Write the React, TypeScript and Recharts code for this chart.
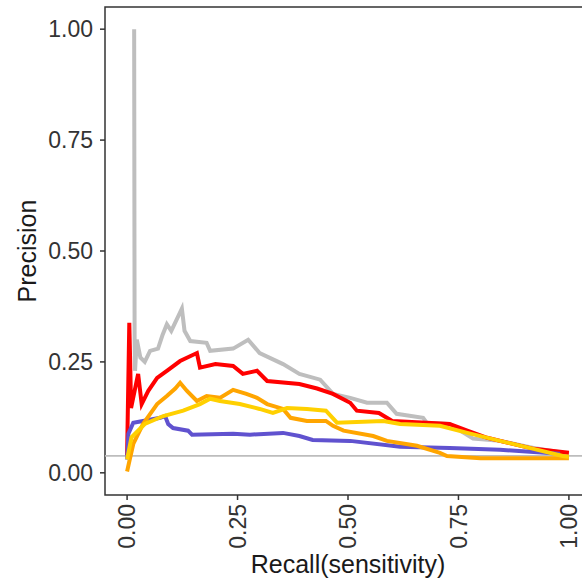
import { LineChart, Line, XAxis, YAxis, ReferenceLine, ReferenceArea, Label } from "recharts";

const ticks = [0, 0.25, 0.5, 0.75, 1];
const baseline = 0.038;

const grayRecall = [0.016, 0.017, 0.018, 0.022, 0.03, 0.04, 0.052, 0.07, 0.08, 0.09, 0.1, 0.124, 0.13, 0.143, 0.18, 0.188, 0.24, 0.274, 0.3, 0.353, 0.39, 0.437, 0.466, 0.505, 0.543, 0.588, 0.61, 0.67, 0.678, 0.73, 0.783, 0.844, 0.92, 1.0];
const grayPrecision = [1.0, 0.3, 0.23, 0.3, 0.26, 0.25, 0.275, 0.28, 0.31, 0.335, 0.32, 0.37, 0.32, 0.297, 0.293, 0.275, 0.28, 0.3, 0.27, 0.245, 0.223, 0.21, 0.178, 0.169, 0.158, 0.158, 0.133, 0.124, 0.113, 0.11, 0.077, 0.072, 0.056, 0.043];

const redRecall = [0.0, 0.005, 0.007, 0.009, 0.025, 0.033, 0.048, 0.068, 0.09, 0.12, 0.158, 0.165, 0.2, 0.24, 0.262, 0.294, 0.317, 0.39, 0.43, 0.466, 0.505, 0.52, 0.57, 0.6, 0.678, 0.73, 0.77, 0.815, 0.92, 1.0];
const redPrecision = [0.04, 0.338, 0.25, 0.146, 0.223, 0.155, 0.185, 0.214, 0.23, 0.252, 0.27, 0.237, 0.245, 0.241, 0.223, 0.23, 0.207, 0.2, 0.19, 0.178, 0.158, 0.14, 0.135, 0.117, 0.113, 0.11, 0.095, 0.079, 0.054, 0.045];

const purpleRecall = [0.0, 0.003, 0.014, 0.036, 0.075, 0.086, 0.093, 0.104, 0.138, 0.147, 0.24, 0.278, 0.353, 0.39, 0.42, 0.505, 0.618, 0.73, 0.844, 0.92, 0.98];
const purplePrecision = [0.03, 0.088, 0.113, 0.117, 0.124, 0.128, 0.11, 0.101, 0.095, 0.086, 0.088, 0.086, 0.09, 0.083, 0.074, 0.072, 0.059, 0.056, 0.052, 0.047, 0.043];

const orangeRecall = [0.0, 0.006, 0.014, 0.036, 0.068, 0.09, 0.109, 0.12, 0.135, 0.158, 0.18, 0.21, 0.24, 0.27, 0.294, 0.317, 0.353, 0.37, 0.407, 0.45, 0.466, 0.49, 0.557, 0.588, 0.656, 0.708, 0.724, 0.8, 1.0];
const orangePrecision = [0.003, 0.03, 0.065, 0.11, 0.155, 0.173, 0.19, 0.203, 0.185, 0.162, 0.173, 0.169, 0.187, 0.178, 0.169, 0.155, 0.144, 0.124, 0.117, 0.117, 0.106, 0.095, 0.083, 0.072, 0.061, 0.045, 0.038, 0.033, 0.033];

const yellowRecall = [0.0, 0.01, 0.04, 0.082, 0.127, 0.165, 0.188, 0.21, 0.255, 0.3, 0.33, 0.362, 0.407, 0.45, 0.475, 0.58, 0.618, 0.708, 0.77, 0.844, 0.92, 0.986, 1.0];
const yellowPrecision = [0.03, 0.08, 0.11, 0.128, 0.14, 0.155, 0.167, 0.162, 0.155, 0.144, 0.135, 0.146, 0.144, 0.14, 0.113, 0.117, 0.11, 0.106, 0.09, 0.072, 0.054, 0.038, 0.036];

const toPoints = (rec: number[], prec: number[]) => rec.map((x, i) => ({ x, y: prec[i] }));

const series = [
  { name: "gray", color: "#BEBEBE", data: toPoints(grayRecall, grayPrecision) },
  { name: "red", color: "#FF0000", data: toPoints(redRecall, redPrecision) },
  { name: "purple", color: "#6052CF", data: toPoints(purpleRecall, purplePrecision) },
  { name: "orange", color: "#FFA500", data: toPoints(orangeRecall, orangePrecision) },
  { name: "yellow", color: "#FFD000", data: toPoints(yellowRecall, yellowPrecision) },
];

const font = "'Liberation Sans', Arial, sans-serif";

const XTick = (props: any) => {
  const { x, y, payload } = props;
  return (
    <g transform={`translate(${x},${y})`}>
      <text transform="rotate(-90)" textAnchor="end" dy="0.36em" fontSize={23} fill="#333" fontFamily={font}>
        {payload.value.toFixed(2)}
      </text>
    </g>
  );
};

export default function App() {
  return (
    <div style={{ position: "absolute", left: 0, top: 0, width: 582, height: 581, overflow: "hidden", background: "#fff" }}>
      <LineChart width={620} height={581} margin={{ top: 7, right: 29, bottom: 0, left: 0 }}>
        <XAxis
          type="number"
          dataKey="x"
          domain={[-0.05, 1.05]}
          ticks={ticks}
          allowDataOverflow
          height={86}
          tickSize={5}
          tickMargin={4}
          axisLine={false}
          tickLine={{ stroke: "#333", strokeWidth: 1.5 }}
          tick={<XTick />}
        >
          <Label value="Recall(sensitivity)" position="insideBottom" offset={8} fontSize={25} fill="#1a1a1a" fontFamily={font} />
        </XAxis>
        <YAxis
          type="number"
          dataKey="y"
          domain={[-0.05, 1.05]}
          ticks={ticks}
          allowDataOverflow
          width={105}
          tickSize={5}
          tickMargin={7}
          axisLine={false}
          tickLine={{ stroke: "#333", strokeWidth: 1.5 }}
          tickFormatter={(v: number) => v.toFixed(2)}
          tick={{ fontSize: 23, fill: "#333", fontFamily: font }}
        >
          <Label value="Precision" angle={-90} position="insideLeft" offset={27} fontSize={25} fill="#1a1a1a" fontFamily={font} style={{ textAnchor: "middle" }} />
        </YAxis>
        <ReferenceLine y={baseline} stroke="#BDBDBD" strokeWidth={1.8} />
        {series.map((s) => (
          <Line
            key={s.name}
            data={s.data}
            dataKey="y"
            type="linear"
            stroke={s.color}
            strokeWidth={4}
            dot={false}
            isAnimationActive={false}
          />
        ))}
        <ReferenceArea x1={-0.05} x2={1.05} y1={-0.05} y2={1.05} fill="none" stroke="#333" strokeWidth={1.5} />
      </LineChart>
    </div>
  );
}
